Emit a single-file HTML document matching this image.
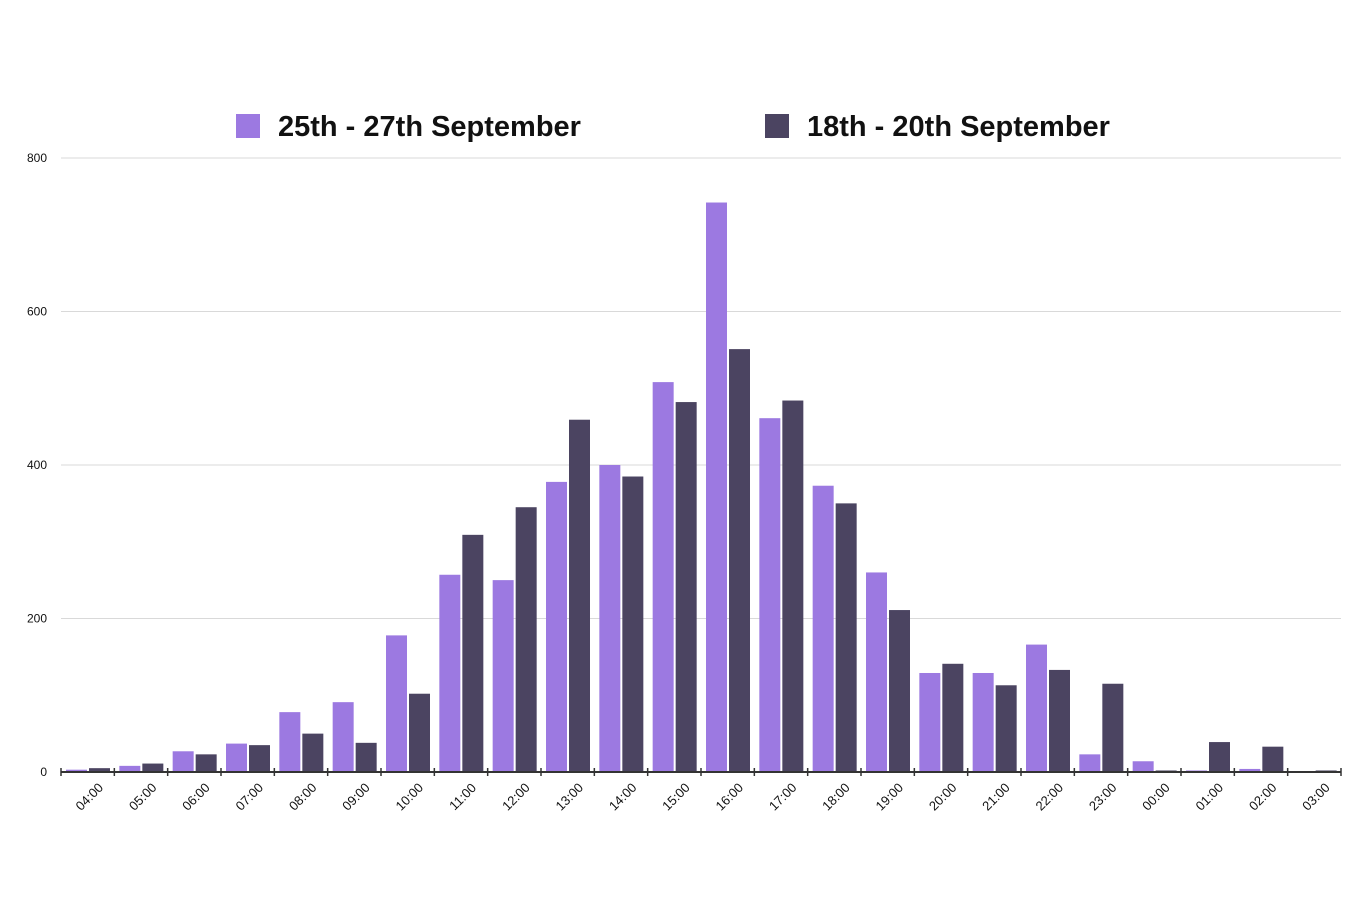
<!DOCTYPE html>
<html><head><meta charset="utf-8"><style>
body{margin:0;background:#fff;width:1370px;height:900px;overflow:hidden;font-family:"Liberation Sans",sans-serif}
</style></head><body>
<svg id="chart" width="1370" height="900" xmlns="http://www.w3.org/2000/svg">
<g>
<rect x="236" y="114" width="24" height="24" fill="#9c79e1"/>
<text x="278" y="136" font-size="29" font-weight="bold" fill="#111">25th - 27th September</text>
<rect x="765" y="114" width="24" height="24" fill="#4b4461"/>
<text x="807" y="136" font-size="29" font-weight="bold" fill="#111">18th - 20th September</text>
</g>
<g id="grid"></g><g id="bars"></g><g id="axis"></g>
</svg>
<script>
const categories=["04:00","05:00","06:00","07:00","08:00","09:00","10:00","11:00","12:00","13:00","14:00","15:00","16:00","17:00","18:00","19:00","20:00","21:00","22:00","23:00","00:00","01:00","02:00","03:00"];
const seriesA=[3,8,27,37,78,91,178,257,250,378,400,508,742,461,373,260,129,129,166,23,14,2,4,0];
const seriesB=[5,11,23,35,50,38,102,309,345,459,385,482,551,484,350,211,141,113,133,115,2,39,33,2];
const yTicks=[0,200,400,600,800];
const NS="http://www.w3.org/2000/svg";
const x0=61,x1=1341,y0=772,yTop=158,yMax=800;
const band=(x1-x0)/categories.length;
const xs=i=>x0+i*band;
const ys=v=>y0-(v/yMax)*(y0-yTop);
function mk(tag,attrs,parent){const e=document.createElementNS(NS,tag);for(const k in attrs)e.setAttribute(k,attrs[k]);parent.appendChild(e);return e;}
const grid=document.getElementById('grid'),bars=document.getElementById('bars'),axis=document.getElementById('axis');
yTicks.forEach(t=>{
  if(t>0){const l=mk('line',{x1:x0,x2:x1,y1:ys(t),y2:ys(t),stroke:'#d9d9d9','stroke-width':1},grid);
  
  }
  const tx=mk('text',{x:47,y:ys(t)+4,'font-size':12,'text-anchor':'end',fill:'#111'},grid);
  tx.textContent=t;
  
  
});
categories.forEach((c,i)=>{
  const bx=xs(i);
  const a=mk('rect',{x:bx+5,y:ys(seriesA[i]),width:21,height:y0-ys(seriesA[i]),fill:'#9c79e1'},bars);
  
  
  const b=mk('rect',{x:bx+28,y:ys(seriesB[i]),width:21,height:y0-ys(seriesB[i]),fill:'#4b4461'},bars);
  
  
  const cx=bx+band/2+2;
  const lb=mk('text',{x:cx,y:801,'font-size':13,'text-anchor':'middle',fill:'#111',transform:`rotate(-45 ${cx} 797)`},axis);
  lb.textContent=c;
  
  
});
const al=mk('line',{x1:x0,x2:x1,y1:y0,y2:y0,stroke:'#333','stroke-width':2},axis);


for(let i=0;i<=categories.length;i++){
  const tk=mk('line',{x1:xs(i),x2:xs(i),y1:y0-4,y2:y0+4,stroke:'#333','stroke-width':1.5},axis);
  
  
}
</script>
</body></html>
